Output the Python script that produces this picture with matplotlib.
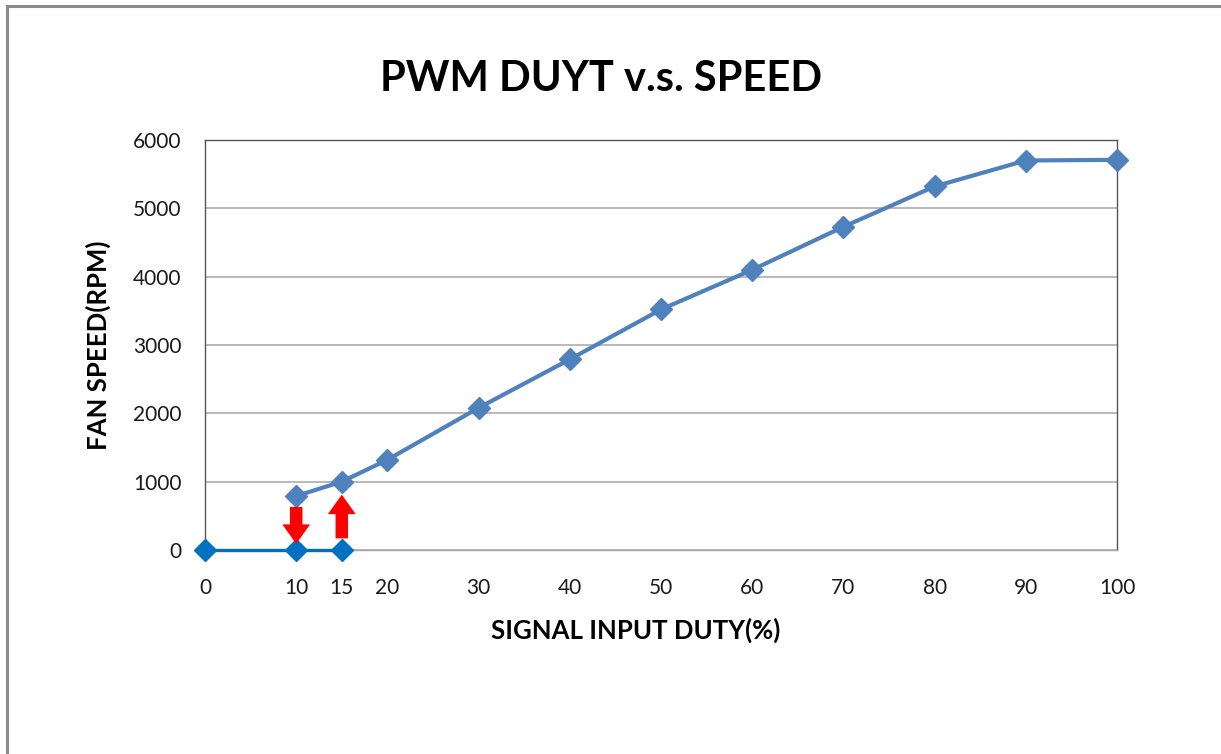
import matplotlib.pyplot as plt
from matplotlib.lines import Line2D

# data
duty_off = [0, 10, 15]
speed_off = [0, 0, 0]
duty_on = [10, 15, 20, 30, 40, 50, 60, 70, 80, 90, 100]
speed_on = [790, 1000, 1320, 2080, 2790, 3520, 4100, 4730, 5320, 5700, 5710]
x_ticks = [0, 10, 15, 20, 30, 40, 50, 60, 70, 80, 90, 100]
y_ticks = [0, 1000, 2000, 3000, 4000, 5000, 6000]
# hysteresis arrows: (x, start, end)
arrow_down = (10, 630, 90)
arrow_up = (15, 170, 810)

plt.rcParams['font.family'] = ['Lato', 'DejaVu Sans']

fig = plt.figure(figsize=(12.21, 7.54), dpi=100)
ax = fig.add_axes([205 / 1221, 1 - 550 / 754, 912 / 1221, 410 / 754])

# outer frame (only top and left visible in the reference)
fig.add_artist(Line2D([7 / 1221, 7 / 1221], [0, 1 - 6 / 754], color='#8c8c8c', lw=2.2))
fig.add_artist(Line2D([7 / 1221, 1], [1 - 6 / 754, 1 - 6 / 754], color='#8c8c8c', lw=2.2))

ax.set_xlim(0, 100)
ax.set_ylim(0, 6000)
ax.set_yticks(y_ticks)
ax.set_xticks(x_ticks)
ax.tick_params(length=0, labelsize=15, colors='#1a1a1a')
ax.tick_params(axis='x', pad=20)
ax.tick_params(axis='y', pad=17)
ax.yaxis.grid(True, color='#a6a6a6', lw=1.1)
ax.set_axisbelow(True)
for s in ax.spines.values():
    s.set_color('#555555')
    s.set_linewidth(1.0)
ax.spines['bottom'].set_color('#a6a6a6')

ax.plot(duty_off, speed_off, color='#0070C0', lw=2.4, marker='D', ms=11,
        clip_on=False, zorder=3)
ax.plot(duty_on, speed_on, color='#4F81BD', lw=3.0, marker='D', ms=11,
        clip_on=False, zorder=4)

for x, y0, y1 in [arrow_down, arrow_up]:
    ax.annotate('', xy=(x, y1), xytext=(x, y0),
                arrowprops=dict(arrowstyle='simple,head_width=1.0,head_length=0.7,tail_width=0.45',
                                color='#ff0000', lw=0, mutation_scale=20, shrinkA=0, shrinkB=0),
                zorder=5)

fig.text(601 / 1221, 1 - 79 / 754, 'PWM DUYT v.s. SPEED', ha='center', va='center',
         fontsize=30, fontweight='bold', color='black')
ax.set_xlabel('SIGNAL INPUT DUTY(%)', fontsize=18.5, fontweight='bold')
ax.xaxis.set_label_coords(0.4726, -0.166)
ax.set_ylabel('FAN SPEED(RPM)', fontsize=18.5, fontweight='bold', labelpad=16)

fig.savefig('out.png', dpi=100)
